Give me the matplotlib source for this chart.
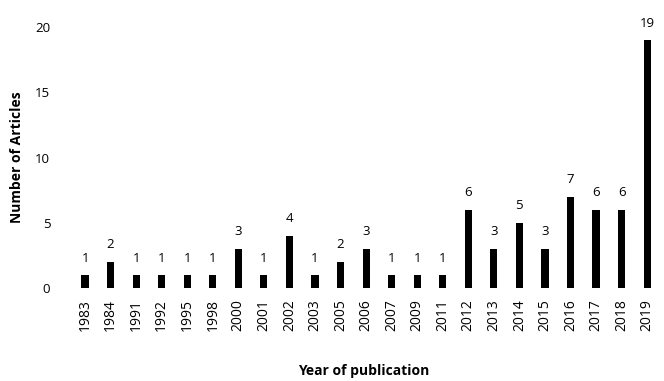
import matplotlib
matplotlib.use('Agg')
import matplotlib.pyplot as plt
import numpy as np

plt.rcParams['font.family'] = ['Open Sans', 'DejaVu Sans']

# Articles per publication year
years = ['1983', '1984', '1991', '1992', '1995', '1998', '2000', '2001', '2002',
         '2003', '2005', '2006', '2007', '2009', '2011', '2012', '2013', '2014',
         '2015', '2016', '2017', '2018', '2019']
counts = [1, 2, 1, 1, 1, 1, 3, 1, 4, 1, 2, 3, 1, 1, 1, 6, 3, 5, 3, 7, 6, 6, 19]
y_ticks = [0, 5, 10, 15, 20]

fig = plt.figure(figsize=(6.64, 3.81), dpi=100)
ax = fig.add_axes([0.105, 0.244, 0.885, 0.685])

x = np.arange(len(years))
ax.bar(x, counts, width=0.28, color='black')
for xi, c in zip(x, counts):
    ax.text(xi, c + 0.8, str(c), ha='center', va='bottom', fontsize=9.5)

ax.set_xticks(x)
ax.set_xticklabels(years, rotation=90, fontsize=10)
ax.set_yticks(y_ticks)
ax.tick_params(axis='y', labelsize=9.5, length=0, pad=14)
ax.tick_params(axis='x', length=0, pad=8)
ax.set_ylim(0, 20)
ax.set_xlim(-0.6, len(years) - 0.6)
for s in ax.spines.values():
    s.set_visible(False)

ax.set_xlabel('Year of publication', fontsize=10, fontweight='bold', labelpad=24)
ax.set_ylabel('Number of Articles', fontsize=10, fontweight='bold', labelpad=8)

fig.savefig('out.png', dpi=100)
